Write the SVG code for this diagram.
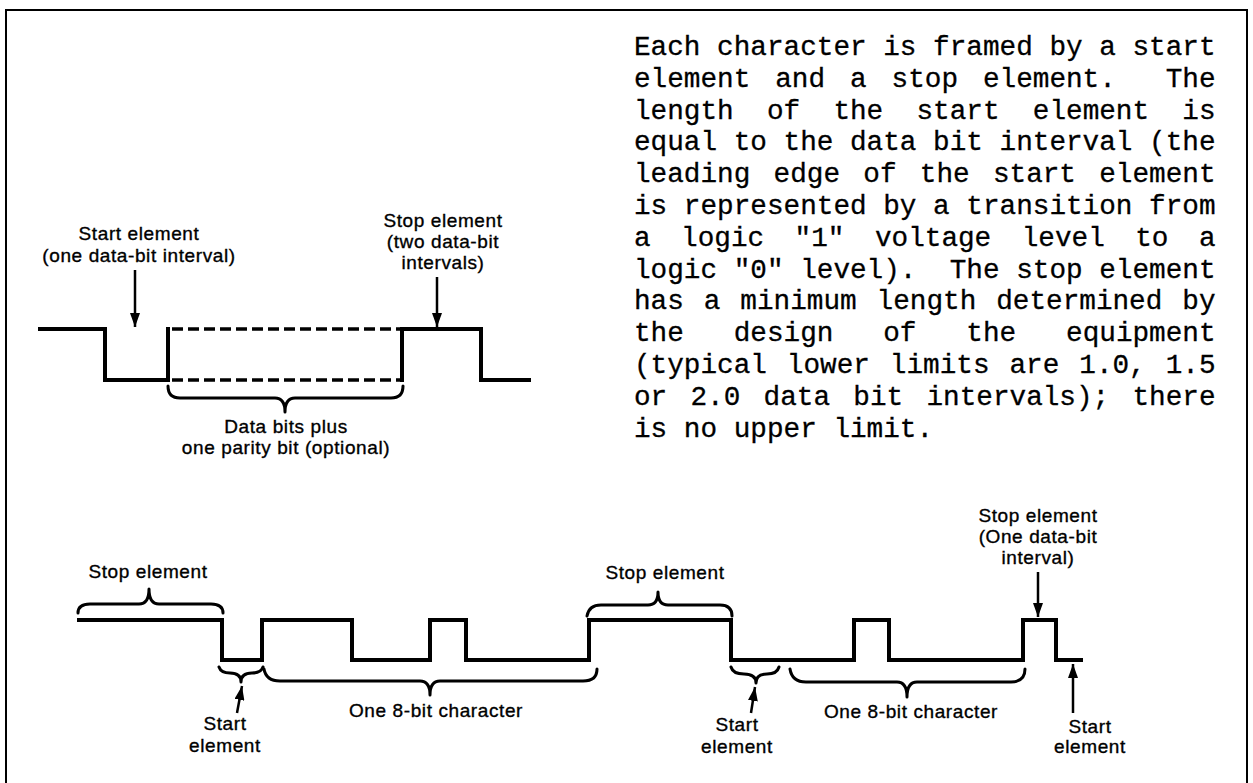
<svg xmlns="http://www.w3.org/2000/svg" width="1253" height="783" viewBox="0 0 1253 783">
<style>
.wave{fill:none;stroke:#000;stroke-width:4;stroke-linejoin:miter;stroke-linecap:square}
.dash{fill:none;stroke:#000;stroke-width:3.5;stroke-dasharray:11 5}
.brace{fill:none;stroke:#000;stroke-width:3;stroke-linejoin:round;stroke-linecap:round}
.arr{fill:none;stroke:#000;stroke-width:2.5}
.lbl{font-family:"Liberation Sans",Arial,Helvetica,sans-serif;font-size:19px;letter-spacing:0.6px;fill:#000;stroke:#000;stroke-width:0.35;text-anchor:middle}
.mono{font-family:"Liberation Mono","Courier New",monospace;font-size:27.7px;fill:#000;stroke:#000;stroke-width:0.3;white-space:pre}
</style>
<defs>
<marker id="ah" markerUnits="userSpaceOnUse" viewBox="0 0 14 10" markerWidth="14" markerHeight="10" refX="14" refY="5" orient="auto">
<path d="M0,0 L14,5 L0,10 z" fill="#000"/>
</marker>
</defs>
<rect x="0" y="0" width="1253" height="783" fill="#fff"/>
<rect x="6" y="10" width="1241" height="790" fill="none" stroke="#000" stroke-width="2"/>

<g id="top-waveform">
<path class="wave" d="M40,329 H105 V380 H168 V329"/>
<path class="dash" d="M172,329 H400 M172,380 H400"/>
<path class="wave" d="M402,380 V329 H481 V380 H529"/>
<path class="brace" d="M168,386 Q168,398 180,398 L275,398 Q285,398 285,412 Q285,398 295,398 L391,398 Q403,398 403,386"/>
</g>

<g id="top-start-label">
<text class="lbl" x="139" y="240">Start element</text>
<text class="lbl" x="139" y="262">(one data-bit interval)</text>
</g>
<g id="top-stop-label">
<text class="lbl" x="443" y="227">Stop element</text>
<text class="lbl" x="443" y="248">(two data-bit</text>
<text class="lbl" x="443" y="269">intervals)</text>
</g>
<g id="top-data-label">
<text class="lbl" x="286" y="433">Data bits plus</text>
<text class="lbl" x="286" y="454">one parity bit (optional)</text>
</g>

<g id="description" xml:space="preserve">
<text class="mono" x="634" y="55">Each character is framed by a start</text>
<text class="mono" x="634" y="87" word-spacing="8.31">element and a stop element.  The</text>
<text class="mono" x="634" y="118.6" word-spacing="16.62">length of the start element is</text>
<text class="mono" x="634" y="150.4">equal to the data bit interval (the</text>
<text class="mono" x="634" y="182.2" word-spacing="6.65">leading edge of the start element</text>
<text class="mono" x="634" y="214">is represented by a transition from</text>
<text class="mono" x="634" y="245.8" word-spacing="13.85">a logic "1" voltage level to a</text>
<text class="mono" x="634" y="277.6">logic "0" level).  The stop element</text>
<text class="mono" x="634" y="309.4" word-spacing="3.32">has a minimum length determined by</text>
<text class="mono" x="634" y="341.2" word-spacing="33.24">the design of the equipment</text>
<text class="mono" x="634" y="373" word-spacing="3.32">(typical lower limits are 1.0, 1.5</text>
<text class="mono" x="634" y="404.8" word-spacing="6.65">or 2.0 data bit intervals); there</text>
<text class="mono" x="634" y="436.6">is no upper limit.</text>
</g>

<g id="bottom-waveform">
<path class="wave" d="M79,620 H222 V660 H262 V620 H352 V660 H430 V620 H466 V660 H589 V620 H731 V660 H854 V620 H889 V660 H1023 V620 H1056 V660 H1081"/>
</g>

<g id="braces">
<path class="brace" d="M78,613 Q78,604 90,604 L139,604 Q149,604 149,589 Q149,604 159,604 L211,604 Q223,604 223,613"/>
<path class="brace" d="M219,667 Q221,673 230,673 Q241,673 241,682 Q241,673 252,673 Q261,673 263,667"/>
<path class="brace" d="M264,669 Q266,681 280,681 L420,681 Q430,681 430,695 Q430,681 440,681 L583,681 Q597,681 597,669"/>
<path class="brace" d="M587,616 Q589,605 601,605 L648,605 Q658,605 658,592 Q658,605 668,605 L720,605 Q732,605 732,616"/>
<path class="brace" d="M731,667 Q733,674 744,674 Q756,674 756,683 Q756,674 767,674 Q777,674 779,667"/>
<path class="brace" d="M790,669 Q792,682 806,682 L897,682 Q907,682 907,697 Q907,682 917,682 L1011,682 Q1025,682 1025,669"/>
</g>

<g id="connectors">
<line class="arr" x1="135" y1="270" x2="135" y2="327" marker-end="url(#ah)"/>
<line class="arr" x1="437" y1="277" x2="437" y2="327" marker-end="url(#ah)"/>
<line class="arr" x1="237" y1="713" x2="242" y2="686" marker-end="url(#ah)"/>
<line class="arr" x1="751" y1="713" x2="755" y2="687" marker-end="url(#ah)"/>
<line class="arr" x1="1073" y1="713" x2="1073" y2="664" marker-end="url(#ah)"/>
<line class="arr" x1="1038" y1="572" x2="1038" y2="617" marker-end="url(#ah)"/>
</g>

<g id="stop1-label"><text class="lbl" x="148" y="578">Stop element</text></g>
<g id="start1-label">
<text class="lbl" x="225" y="730">Start</text>
<text class="lbl" x="225" y="752">element</text>
</g>
<g id="char1-label"><text class="lbl" x="436" y="717">One 8-bit character</text></g>
<g id="stop2-label"><text class="lbl" x="665" y="579">Stop element</text></g>
<g id="start2-label">
<text class="lbl" x="737" y="731">Start</text>
<text class="lbl" x="737" y="753">element</text>
</g>
<g id="char2-label"><text class="lbl" x="911" y="718">One 8-bit character</text></g>
<g id="stop3-label">
<text class="lbl" x="1038" y="522">Stop element</text>
<text class="lbl" x="1038" y="543">(One data-bit</text>
<text class="lbl" x="1038" y="564">interval)</text>
</g>
<g id="start3-label">
<text class="lbl" x="1090" y="733">Start</text>
<text class="lbl" x="1090" y="753">element</text>
</g>
</svg>
